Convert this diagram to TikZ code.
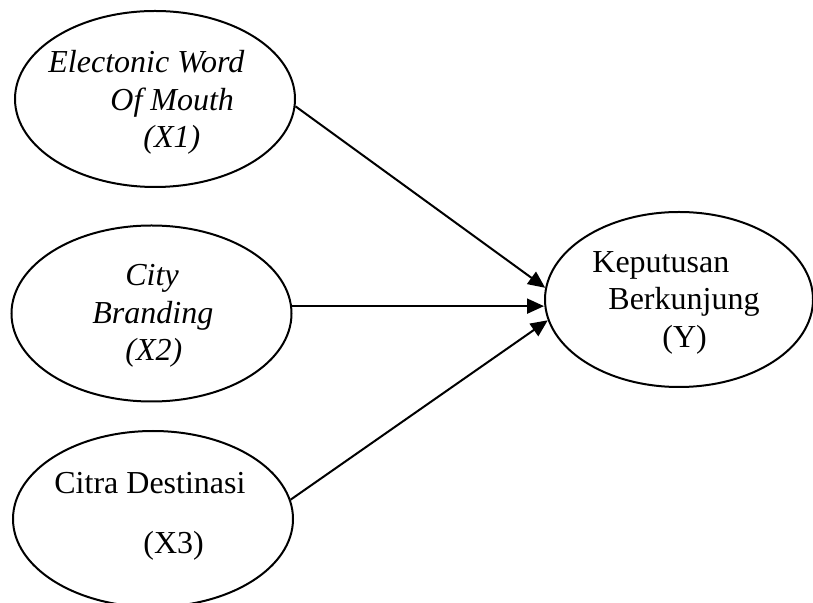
\documentclass[tikz,border=0pt]{standalone}
\usepackage{fontspec}
\setmainfont{Liberation Serif}
\usetikzlibrary{arrows.meta,shapes.geometric}
\tikzset{
  var/.style={draw, ellipse, line width=1pt, inner sep=0pt,
              minimum width=140pt, minimum height=88pt},
  lbl/.style={anchor=base west, inner sep=0pt, font=\fontsize{16}{18.5}\selectfont},
  link/.style={-{Triangle[length=8.5pt,width=7.5pt]}, line width=1pt},
}
\begin{document}
\begin{tikzpicture}[x=0.5pt,y=-0.5pt]
  \useasboundingbox (0,0) rectangle (813,603);
  % constructs
  \node[var] (x1) at (155,99) {};
  \node[var] (x2) at (151.5,313.5) {};
  \node[var] (x3) at (153,519) {};
  \node[var,minimum width=134pt,minimum height=87.5pt] (y) at (679,299.5) {};
  % labels
  \node[lbl,font=\fontsize{16}{18.5}\selectfont\itshape] (x1a) at (48,73) {Electonic Word};
  \node[lbl,font=\fontsize{16}{18.5}\selectfont\itshape] (x1b) at (110,110.5) {Of Mouth};
  \node[lbl,font=\fontsize{16}{18.5}\selectfont\itshape] (x1c) at (143,148) {(X1)};
  \node[lbl,font=\fontsize{16}{18.5}\selectfont\itshape] (x2a) at (125,286) {City};
  \node[lbl,font=\fontsize{16}{18.5}\selectfont\itshape] (x2b) at (92,324) {Branding};
  \node[lbl,font=\fontsize{16}{18.5}\selectfont\itshape] (x2c) at (125,361) {(X2)};
  \node[lbl] (x3a) at (54,494) {Citra Destinasi};
  \node[lbl] (x3b) at (143,553) {(X3)};
  \node[lbl] (ya) at (592,272.5) {Keputusan};
  \node[lbl] (yb) at (608,310) {Berkunjung};
  \node[lbl] (yc) at (662,348) {(Y)};
  % paths
  \draw[link] (x1.-3) -- (y.175);
  \draw[link] (x2.3) -- (x2.3 -| y.west);
  \draw[link] (x3.8) -- (y.189);
\end{tikzpicture}
\end{document}
